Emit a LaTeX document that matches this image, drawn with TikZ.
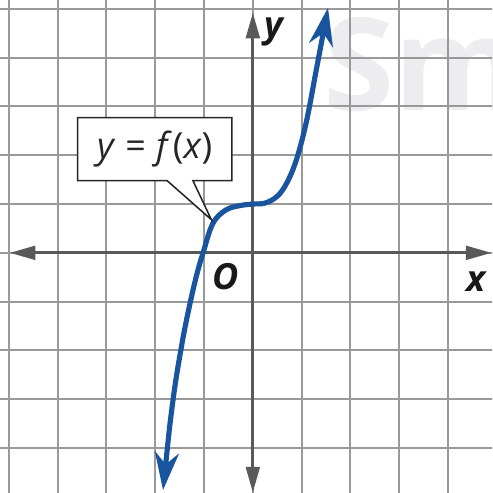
\documentclass[tikz,border=0pt]{standalone}
\usepackage{fontspec}
\setmainfont{Open Sans}
\usepackage{tikz}
\usetikzlibrary{arrows.meta, shapes.callouts}
\definecolor{CurveBlue}{rgb}{0.10, 0.33, 0.62}
\definecolor{gridgray}{rgb}{0.60, 0.60, 0.60}
\definecolor{axisgray}{rgb}{0.35, 0.35, 0.35}
\definecolor{markgray}{rgb}{0.93, 0.93, 0.94}

\tikzset{
  gridline/.style={gridgray, line width=1.2pt},
  axisline/.style={axisgray, line width=1.8pt, {Triangle[length=15pt, width=8pt]}-{Triangle[length=15pt, width=8pt]}},
  axislabel/.style={font=\fontsize{21}{25}\selectfont\bfseries\itshape, text=black!90},
  graphline/.style={CurveBlue, line width=3pt, {Stealth[length=22pt, width=14pt, inset=7pt]}-{Stealth[length=22pt, width=14pt, inset=7pt]}},
  calloutbox/.style={rectangle callout, draw=black!85, line width=0.9pt, fill=white, minimum width=3.16cm, minimum height=1.29cm, callout pointer width=0.53cm, font=\fontsize{21}{25}\selectfont, text=black!85}
}

\begin{document}
\begin{tikzpicture}
        \useasboundingbox (-5.18,-4.92) rectangle (4.90,5.18);
        \clip (-5.18,-4.92) rectangle (4.90,5.18);
        \fill [white] (-5.18,-4.92) rectangle (4.90,5.18);

        % Watermark
        \node [anchor=west, inner sep=0pt, text=markgray, font=\fontsize{75}{80}\selectfont\bfseries] (mark) at (1.45,3.85) {Sm};

        % Grid
        \foreach \k in {-5,...,5} {
            \draw [gridline] (\k,-5.2) -- (\k,5.2);
            \draw [gridline] (-5.2,\k) -- (5.2,\k);
        }

        % Axes
        \coordinate (xl) at (-4.98,0);
        \coordinate (xr) at (4.89,0);
        \coordinate (yb) at (0,-4.91);
        \coordinate (yt) at (0,4.92);
        \draw [axisline] (xl) -- (xr);
        \draw [axisline] (yb) -- (yt);
        \node [axislabel] (xlab) at (4.57,-0.59) {x};
        \node [axislabel] (ylab) at (0.43,4.53) {y};
        \node [axislabel] (orig) at (-0.55,-0.49) {O};

        % Graph of f
        \draw [graphline] plot [smooth, tension=0.6] coordinates {
            (-1.84,-4.86) (-1.64,-3.05) (-1.45,-1.85) (-1.29,-1.05) (-1.15,-0.45)
            (-1.02,0) (-0.82,0.6) (-0.55,0.88) (-0.25,0.97) (0,1.0)
            (0.25,1.02) (0.5,1.16) (0.7,1.44) (0.9,1.93) (1.1,2.7)
            (1.3,3.75) (1.54,5.02)};

        % Label
        \coordinate (tip) at (-0.85,0.68);
        \node [calloutbox, callout absolute pointer={(tip)}] (lbl) at (-2.01,2.125)
            {\textit{y}\hspace{0.28em}=\hspace{0.28em}\textit{f}\kern0.5pt(\textit{x})};
    \end{tikzpicture}
\end{document}
